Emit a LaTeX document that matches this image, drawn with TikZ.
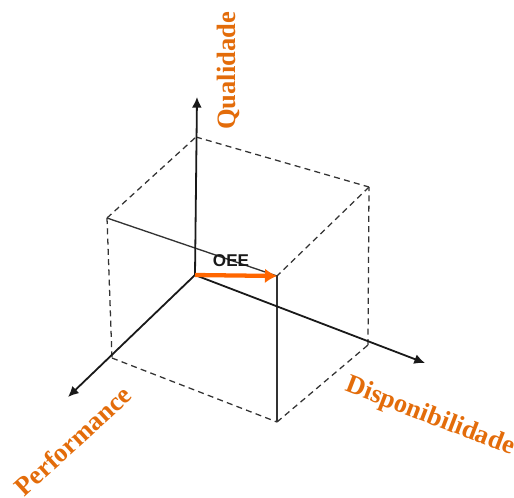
\documentclass[tikz,border=0pt]{standalone}
\usepackage{fontspec}
\usepackage{xcolor}
\setmainfont{Liberation Serif}
\newfontfamily\oeefont{Liberation Sans}
\definecolor{axislabel}{HTML}{E36C0A}
\definecolor{oeearrow}{HTML}{FF6600}
\usetikzlibrary{arrows.meta}

\begin{document}
\begin{tikzpicture}[x=0.75pt,y=-0.75pt,
  axisline/.style={line width=1.35pt,draw=black!90,-{Latex[length=8pt,width=7.5pt]}},
  cubedash/.style={line width=0.95pt,draw=black!80,dash pattern=on 4.5pt off 3.2pt},
  cubeline/.style={line width=1pt,draw=black!80},
  axistext/.style={font=\bfseries\fontsize{19.9}{22}\selectfont,text=axislabel,inner sep=0pt}]
\useasboundingbox (0,0) rectangle (514,497);
% axes
\coordinate (origin) at (195,275);
\coordinate (qtip) at (197,97);
\coordinate (ptip) at (68,397);
\coordinate (dtip) at (425,363);
% cube corners
\coordinate (topback) at (196,137);
\coordinate (topright) at (369,187);
\coordinate (topleft) at (107,218);
\coordinate (topfront) at (277,276);
\coordinate (botleft) at (112,358);
\coordinate (botright) at (368,345);
\coordinate (botfront) at (277,422);
\draw[cubedash] (topleft)--(topback);
\draw[cubedash] (topback)--(topright);
\draw[cubedash] (topright)--(topfront);
\draw[cubedash] (topleft)--(botleft);
\draw[cubedash] (botleft)--(botfront);
\draw[cubedash] (botfront)--(botright);
\draw[cubedash] (botright)--(topright);
\draw[cubeline] (topleft)--(topfront);
\draw[cubeline] (topfront)--(botfront);
\draw[axisline] (origin)--(qtip);
\draw[axisline] (origin)--(ptip);
\draw[axisline] (origin)--(dtip);
\draw[line width=3.2pt,draw=oeearrow,-{Latex[length=9pt,width=11pt]}] (origin)--(topfront);
\node[font=\oeefont\bfseries\fontsize{12.8}{15}\selectfont,text=black!90,inner sep=0pt] (oee) at (231,261) {OEE};
\node[axistext,rotate=90] (qualidade) at (228,71) {Qualidade};
\node[axistext,rotate=42.5] (performance) at (73,441) {Performance};
\node[axistext,rotate=-21] (disponibilidade) at (430,417) {Disponibilidade};
\end{tikzpicture}
\end{document}
